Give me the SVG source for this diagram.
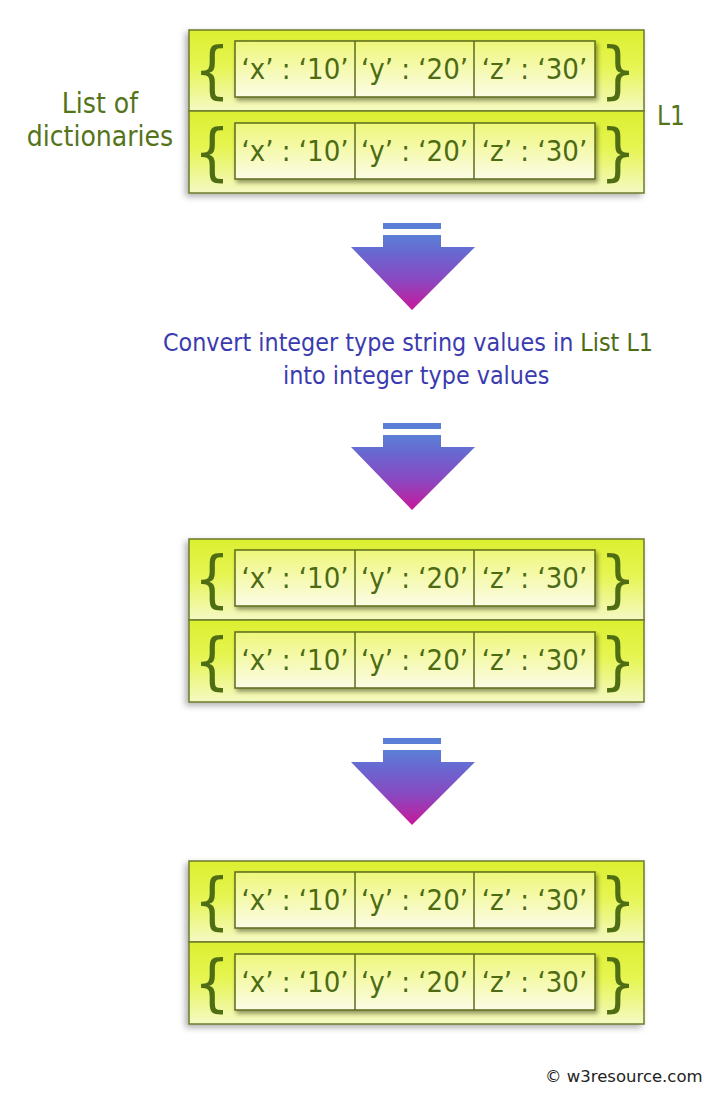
<svg xmlns="http://www.w3.org/2000/svg" width="720" height="1099" viewBox="0 0 720 1099">
<style>
.cell{font-family:"DejaVu Sans Condensed","DejaVu Sans",sans-serif;font-size:29px;fill:#4d6b12;text-anchor:middle}
.brace{font-family:"DejaVu Sans Condensed","DejaVu Sans",sans-serif;font-size:63px;fill:#4f6e14;text-anchor:middle}
.lbl{font-family:"DejaVu Sans Condensed","DejaVu Sans",sans-serif;font-size:28px;fill:#55741a}
.mid{font-family:"DejaVu Sans Condensed","DejaVu Sans",sans-serif;font-size:24.8px;fill:#3b3bb0}
.grn{fill:#4d6b14}
.outer{stroke:#6b7b2b;stroke-width:1.5;fill:url(#rowG)}
.inner{stroke:#5c6b1e;stroke-width:1.5;fill:url(#cellG)}
.div{stroke:#5c6b1e;stroke-width:1.5}
.bar{fill:#5b7fd6}
.arr{fill:url(#arrG)}
</style>
<defs>
<linearGradient id="rowG" x1="0" y1="0" x2="0" y2="1">
<stop offset="0" stop-color="#dcef30"/>
<stop offset="0.45" stop-color="#e6f552"/>
<stop offset="1" stop-color="#f5f9c4"/>
</linearGradient>
<linearGradient id="cellG" x1="0" y1="0" x2="0" y2="1">
<stop offset="0" stop-color="#eef77a"/>
<stop offset="1" stop-color="#fcfce6"/>
</linearGradient>
<linearGradient id="arrG" x1="0" y1="0" x2="0" y2="1">
<stop offset="0" stop-color="#5b7fd6"/>
<stop offset="0.25" stop-color="#6a66d0"/>
<stop offset="0.6" stop-color="#8a48c0"/>
<stop offset="1" stop-color="#c8189a"/>
</linearGradient>
<filter id="shOuter" x="-10%" y="-10%" width="120%" height="130%">
<feDropShadow dx="-3" dy="3" stdDeviation="3" flood-color="#000" flood-opacity="0.3"/>
</filter>
<filter id="shInner" x="-10%" y="-20%" width="120%" height="150%">
<feDropShadow dx="2" dy="3" stdDeviation="2" flood-color="#000" flood-opacity="0.4"/>
</filter>
</defs>
<rect width="720" height="1099" fill="#ffffff"/>

<g id="label-list">
<text class="lbl" x="100" y="113" text-anchor="middle">List of</text>
<text class="lbl" x="100" y="146" text-anchor="middle">dictionaries</text>
</g>
<g id="label-L1">
<text class="lbl" x="657" y="125" style="font-size:26px">L1</text>
</g>

<g id="block1" transform="translate(0,30)">
<g filter="url(#shOuter)">
<rect class="outer" x="189" y="0" width="455" height="81"/>
<rect class="outer" x="189" y="81" width="455" height="82"/>
</g>
<rect class="inner" x="235" y="11" width="360" height="56" filter="url(#shInner)"/>
<line class="div" x1="355" y1="11" x2="355" y2="67"/>
<line class="div" x1="474" y1="11" x2="474" y2="67"/>
<rect class="inner" x="235" y="93" width="360" height="56" filter="url(#shInner)"/>
<line class="div" x1="355" y1="93" x2="355" y2="149"/>
<line class="div" x1="474" y1="93" x2="474" y2="149"/>
<text class="brace" x="212" y="61">{</text>
<text class="brace" x="618" y="61">}</text>
<text class="brace" x="212" y="143">{</text>
<text class="brace" x="618" y="143">}</text>
<text class="cell" x="295" y="49">‘x’ : ‘10’</text>
<text class="cell" x="414.5" y="49">‘y’ : ‘20’</text>
<text class="cell" x="534.5" y="49">‘z’ : ‘30’</text>
<text class="cell" x="295" y="131">‘x’ : ‘10’</text>
<text class="cell" x="414.5" y="131">‘y’ : ‘20’</text>
<text class="cell" x="534.5" y="131">‘z’ : ‘30’</text>
</g>

<g id="text-convert">
<text class="mid" x="163" y="351">Convert integer type string values in <tspan class="grn">List L1</tspan></text>
<text class="mid" x="283" y="384">into integer type values</text>
</g>

<g id="block2" transform="translate(0,539)">
<g filter="url(#shOuter)">
<rect class="outer" x="189" y="0" width="455" height="81"/>
<rect class="outer" x="189" y="81" width="455" height="82"/>
</g>
<rect class="inner" x="235" y="11" width="360" height="56" filter="url(#shInner)"/>
<line class="div" x1="355" y1="11" x2="355" y2="67"/>
<line class="div" x1="474" y1="11" x2="474" y2="67"/>
<rect class="inner" x="235" y="93" width="360" height="56" filter="url(#shInner)"/>
<line class="div" x1="355" y1="93" x2="355" y2="149"/>
<line class="div" x1="474" y1="93" x2="474" y2="149"/>
<text class="brace" x="212" y="61">{</text>
<text class="brace" x="618" y="61">}</text>
<text class="brace" x="212" y="143">{</text>
<text class="brace" x="618" y="143">}</text>
<text class="cell" x="295" y="49">‘x’ : ‘10’</text>
<text class="cell" x="414.5" y="49">‘y’ : ‘20’</text>
<text class="cell" x="534.5" y="49">‘z’ : ‘30’</text>
<text class="cell" x="295" y="131">‘x’ : ‘10’</text>
<text class="cell" x="414.5" y="131">‘y’ : ‘20’</text>
<text class="cell" x="534.5" y="131">‘z’ : ‘30’</text>
</g>

<g id="block3" transform="translate(0,861)">
<g filter="url(#shOuter)">
<rect class="outer" x="189" y="0" width="455" height="81"/>
<rect class="outer" x="189" y="81" width="455" height="82"/>
</g>
<rect class="inner" x="235" y="11" width="360" height="56" filter="url(#shInner)"/>
<line class="div" x1="355" y1="11" x2="355" y2="67"/>
<line class="div" x1="474" y1="11" x2="474" y2="67"/>
<rect class="inner" x="235" y="93" width="360" height="56" filter="url(#shInner)"/>
<line class="div" x1="355" y1="93" x2="355" y2="149"/>
<line class="div" x1="474" y1="93" x2="474" y2="149"/>
<text class="brace" x="212" y="61">{</text>
<text class="brace" x="618" y="61">}</text>
<text class="brace" x="212" y="143">{</text>
<text class="brace" x="618" y="143">}</text>
<text class="cell" x="295" y="49">‘x’ : ‘10’</text>
<text class="cell" x="414.5" y="49">‘y’ : ‘20’</text>
<text class="cell" x="534.5" y="49">‘z’ : ‘30’</text>
<text class="cell" x="295" y="131">‘x’ : ‘10’</text>
<text class="cell" x="414.5" y="131">‘y’ : ‘20’</text>
<text class="cell" x="534.5" y="131">‘z’ : ‘30’</text>
</g>

<g id="connectors">
<g id="arrow1">
<rect class="bar" x="383" y="223" width="58" height="6"/>
<polygon class="arr" points="383,235 441,235 441,247 475,247 412,310 351,247 383,247"/>
</g>
<g id="arrow2" transform="translate(0,200)">
<rect class="bar" x="383" y="223" width="58" height="6"/>
<polygon class="arr" points="383,235 441,235 441,247 475,247 412,310 351,247 383,247"/>
</g>
<g id="arrow3" transform="translate(0,515)">
<rect class="bar" x="383" y="223" width="58" height="6"/>
<polygon class="arr" points="383,235 441,235 441,247 475,247 412,310 351,247 383,247"/>
</g>
</g>

<g id="copyright">
<text x="545" y="1082" style="font-family:'DejaVu Sans',sans-serif;font-size:16.5px;fill:#222">© w3resource.com</text>
</g>
</svg>
